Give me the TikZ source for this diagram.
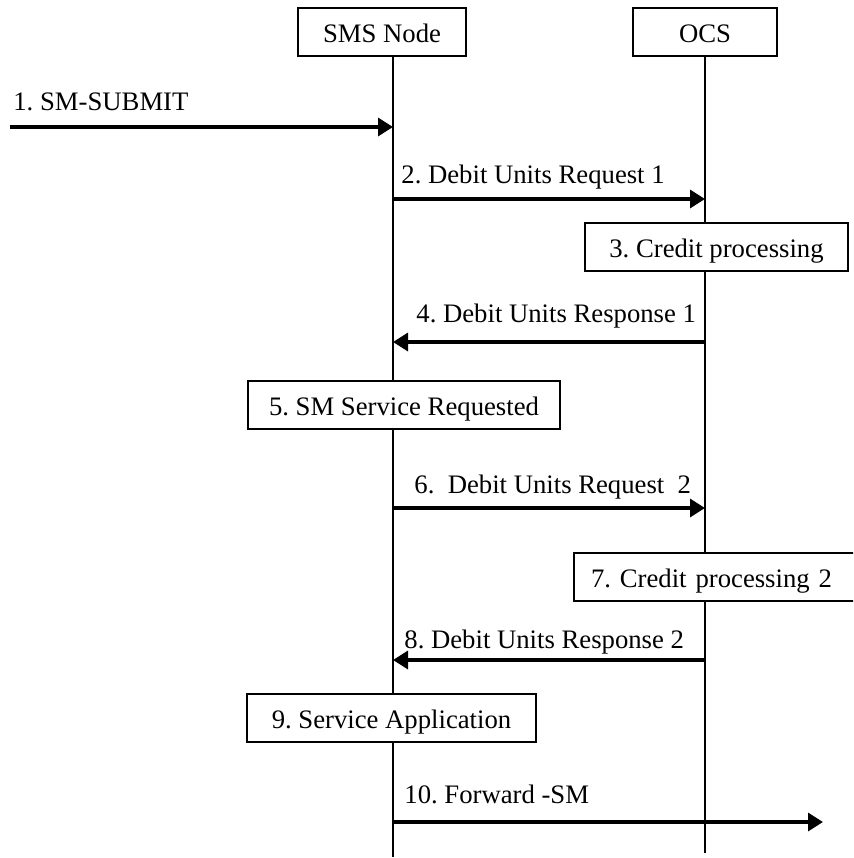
\documentclass[tikz,border=0pt]{standalone}
\usepackage{fontspec}
\setmainfont{Liberation Serif}
\usetikzlibrary{arrows.meta}
\frenchspacing
\begin{document}
\begin{tikzpicture}[x=0.5pt,y=-0.5pt,
  font=\fontsize{13.35pt}{16pt}\selectfont,
  sbox/.style={draw,line width=1pt,fill=white,minimum height=24pt,inner sep=0pt,text height=12pt,text depth=1.6pt},
  life/.style={line width=0.85pt},
  msg/.style={line width=1.65pt,-{Triangle[length=7.5pt,width=9pt]}},
  lbl/.style={anchor=base west,inner sep=0pt}]
\useasboundingbox (0,0) rectangle (853,858);
\clip (0,0) rectangle (853,858);
% entities
\node[sbox,minimum width=84pt] (sms) at (382,32) {SMS Node};
\node[sbox,minimum width=72pt] (ocs) at (705,32) {OCS};
% lifeline ends
\coordinate (smsBot) at (393,857);
\coordinate (ocsBot) at (705,853);
\draw[life] (sms.south -| smsBot) -- (smsBot);
\draw[life] (ocs.south) -- (ocsBot);
% points on lifelines
\coordinate (start1) at (10,127);
\coordinate (s1) at (393,127);
\coordinate (s2) at (393,199);
\coordinate (o2) at (705,199);
\coordinate (o4) at (705,342);
\coordinate (s4) at (393,342);
\coordinate (s6) at (393,508);
\coordinate (o6) at (705,508);
\coordinate (o8) at (705,660);
\coordinate (s8) at (393,660);
\coordinate (s10) at (393,822);
\coordinate (end10) at (823,822);
% process boxes
\node[sbox,minimum width=131.5pt] (b3) at (716.5,247) {3. Credit processing};
\node[sbox,minimum width=156pt] (b5) at (404,405) {5. SM Service Requested};
\node[sbox,anchor=west,text width=128pt,inner xsep=8.5pt,align=left] (b7) at (573,577) {7. Credit processing 2};
\node[sbox,minimum width=144.5pt] (b9) at (391.5,718) {9. Service Application};
% messages
\draw[msg] (start1) -- (s1);
\node[lbl] (l1) at (13,110) {1. SM-SUBMIT};
\draw[msg] (s2) -- (o2);
\node[lbl] (l2) at (401,183) {2. Debit Units Request 1};
\draw[msg] (o4) -- (s4);
\node[lbl] (l4) at (416,322) {4. Debit Units Response 1};
\draw[msg] (s6) -- (o6);
\node[lbl] (l6) at (414,493) {6.\ \ Debit Units Request\ \ 2};
\draw[msg] (o8) -- (s8);
\node[lbl] (l8) at (404,648) {8. Debit Units Response 2};
\draw[msg] (s10) -- (end10);
\node[lbl] (l10) at (404,803) {10. Forward -SM};
\end{tikzpicture}
\end{document}
